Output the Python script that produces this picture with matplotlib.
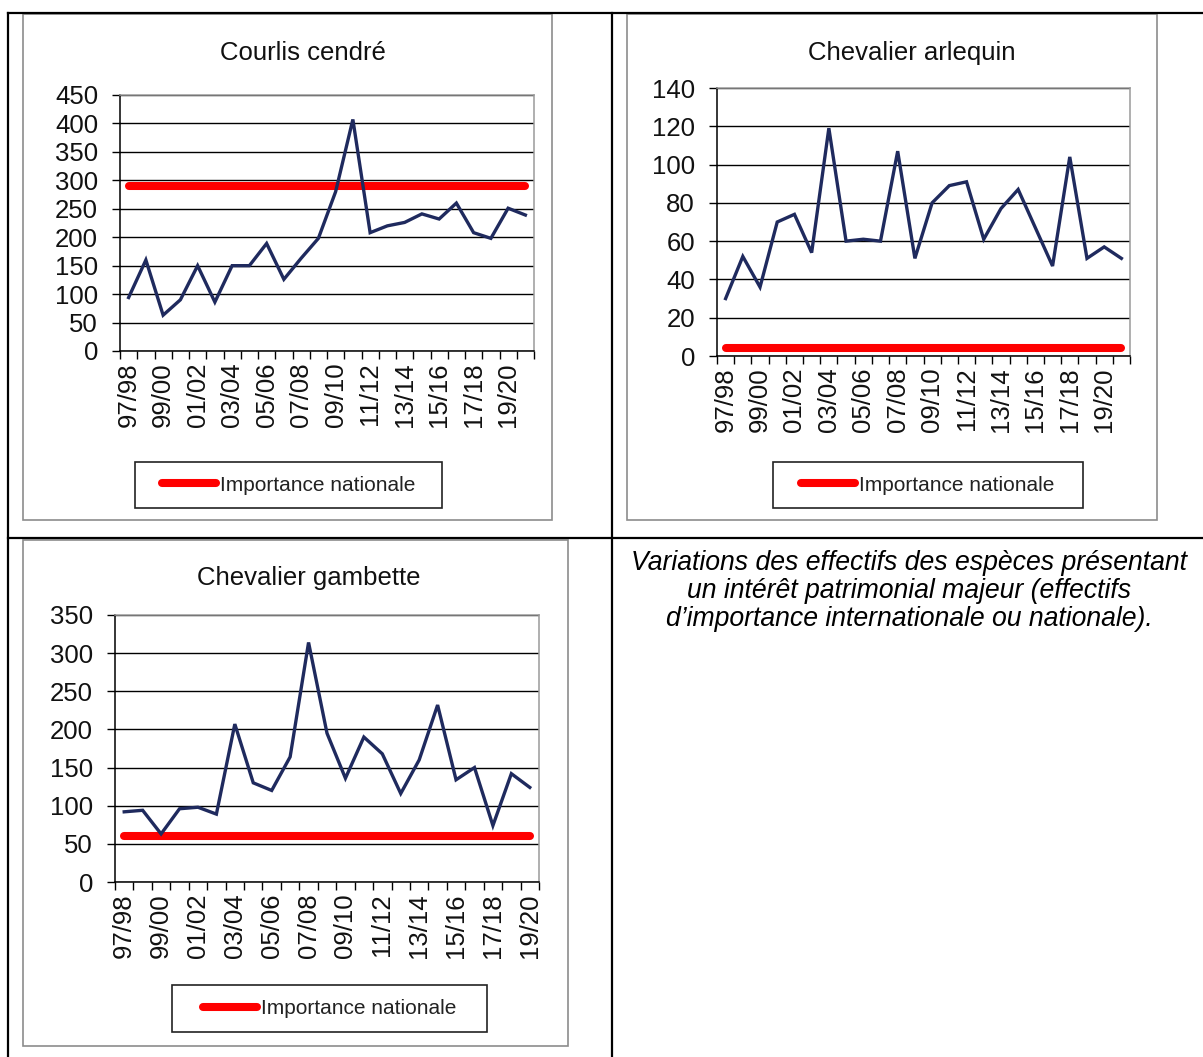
import numpy as np
import matplotlib
matplotlib.use('Agg')
import matplotlib.pyplot as plt
from matplotlib.patches import Rectangle
from matplotlib.lines import Line2D

W, H = 1203, 1057
plt.rcParams['font.family'] = ['Liberation Sans', 'DejaVu Sans']

# ---------------- data ----------------
seasons = ['97/98', '98/99', '99/00', '00/01', '01/02', '02/03', '03/04', '04/05',
           '05/06', '06/07', '07/08', '08/09', '09/10', '10/11', '11/12', '12/13',
           '13/14', '14/15', '15/16', '16/17', '17/18', '18/19', '19/20', '20/21']

courlis_title = 'Courlis cendré'
courlis_values = [94, 160, 63, 90, 150, 86, 150, 150, 189, 126, 163, 198,
                  280, 407, 208, 220, 226, 241, 232, 260, 208, 198, 251, 239]
courlis_national = 290
courlis_yticks = [0, 50, 100, 150, 200, 250, 300, 350, 400, 450]

arlequin_title = 'Chevalier arlequin'
arlequin_values = [30, 52, 36, 70, 74, 54, 119, 60, 61, 60, 107, 51,
                   80, 89, 91, 61, 77, 87, 67, 47, 104, 51, 57, 51]
arlequin_national = 4
arlequin_yticks = [0, 20, 40, 60, 80, 100, 120, 140]

gambette_title = 'Chevalier gambette'
gambette_values = [92, 94, 63, 96, 98, 89, 207, 130, 120, 164, 314, 195,
                   136, 190, 168, 116, 160, 232, 134, 150, 74, 142, 124]
gambette_national = 60
gambette_yticks = [0, 50, 100, 150, 200, 250, 300, 350]

legend_label = 'Importance nationale'
caption_lines = ['Variations des effectifs des espèces présentant',
                 'un intérêt patrimonial majeur (effectifs',
                 'd\u2019importance internationale ou nationale).']

NAVY = '#1F2A5E'
RED = '#FF0000'
TICK_FS = 18.5

fig = plt.figure(figsize=(W / 100, H / 100), dpi=100)


def frac_rect(x0, y0, x1, y1):
    return [x0 / W, 1 - y1 / H, (x1 - x0) / W, (y1 - y0) / H]


def fig_line(x0, y0, x1, y1, lw=1.6, color='black'):
    fig.add_artist(Line2D([x0 / W, x1 / W], [1 - y0 / H, 1 - y1 / H],
                          transform=fig.transFigure, color=color, lw=lw,
                          solid_capstyle='projecting'))


def fig_box(x0, y0, x1, y1, color='#8c8c8c', lw=1.2):
    fig.add_artist(Rectangle((x0 / W, 1 - y1 / H), (x1 - x0) / W, (y1 - y0) / H,
                             transform=fig.transFigure, fill=False,
                             edgecolor=color, lw=lw))


def chart(plot_box, title, title_xy, values, national, yticks, labels,
          legend_box):
    ax = fig.add_axes(frac_rect(*plot_box))
    n = len(values)
    x = np.arange(n)
    red, = ax.plot(x, [national] * n, color=RED, lw=5.8,
                   solid_capstyle='round', zorder=3, label=legend_label)
    ax.plot(x, values, color=NAVY, lw=2.4, zorder=4, solid_joinstyle='miter')
    ax.set_xlim(-0.5, n - 0.5)
    ax.set_ylim(yticks[0], yticks[-1])
    ax.set_yticks(yticks)
    ax.set_yticklabels([str(v) for v in yticks])
    ax.yaxis.grid(True, color='black', lw=1.0)
    ax.set_axisbelow(True)
    ax.set_xticks(np.arange(n + 1) - 0.5)
    ax.set_xticklabels([])
    ax.set_xticks(x[::2], minor=True)
    ax.set_xticklabels(labels[::2], minor=True, rotation=90)
    ax.tick_params(axis='x', which='major', length=5.8, width=1.0,
                   direction='out', color='black')
    ax.tick_params(axis='x', which='minor', length=0, pad=8.5,
                   labelsize=TICK_FS, labelcolor='#111111')
    ax.tick_params(axis='y', length=5.8, width=1.0, direction='out',
                   pad=10, labelsize=TICK_FS, labelcolor='#111111')
    for s in ('left', 'bottom'):
        ax.spines[s].set_color('black')
        ax.spines[s].set_linewidth(1.1)
    for s in ('top', 'right'):
        ax.spines[s].set_color('#9a9a9a')
        ax.spines[s].set_linewidth(1.1)
    fig.text(title_xy[0] / W, 1 - title_xy[1] / H, title, ha='center',
             va='center', fontsize=18.5, color='#111111')
    lx0, ly0, lx1, ly1 = legend_box
    fig_box(lx0, ly0, lx1, ly1, color='#222222', lw=1.2)
    ax.legend(handles=[red], loc='center',
              bbox_to_anchor=((lx0 + lx1) / 2 / W, 1 - (ly0 + ly1) / 2 / H),
              bbox_transform=fig.transFigure, frameon=False, fontsize=15,
              handlelength=2.6, handletextpad=0.2, labelcolor='#222222',
              borderpad=0)
    return ax


# chart frames (grey boxes)
fig_box(22.5, 13.5, 552, 520)
fig_box(627, 13.5, 1157, 520)
fig_box(22.5, 540, 568, 1046)

chart((120, 95, 534, 351), courlis_title, (303, 53), courlis_values,
      courlis_national, courlis_yticks, seasons, (135, 462, 442, 508))
chart((717, 88, 1130, 356), arlequin_title, (912, 53), arlequin_values,
      arlequin_national, arlequin_yticks, seasons, (773, 462, 1083, 508))
chart((115, 615, 539, 882), gambette_title, (309, 578), gambette_values,
      gambette_national, gambette_yticks, seasons[:23], (172, 985, 487, 1032))

# table lines
fig_line(8, 12.5, 1203, 12.5)
fig_line(8, 12.5, 8, 1057)
fig_line(612, 12.5, 612, 1057)
fig_line(8, 538, 1203, 538)

for i, line in enumerate(caption_lines):
    fig.text(909 / W, 1 - (563 + 28 * i) / H, line, ha='center', va='center',
             style='italic', fontsize=19.2, color='black')

fig.savefig('out.png', dpi=100)
